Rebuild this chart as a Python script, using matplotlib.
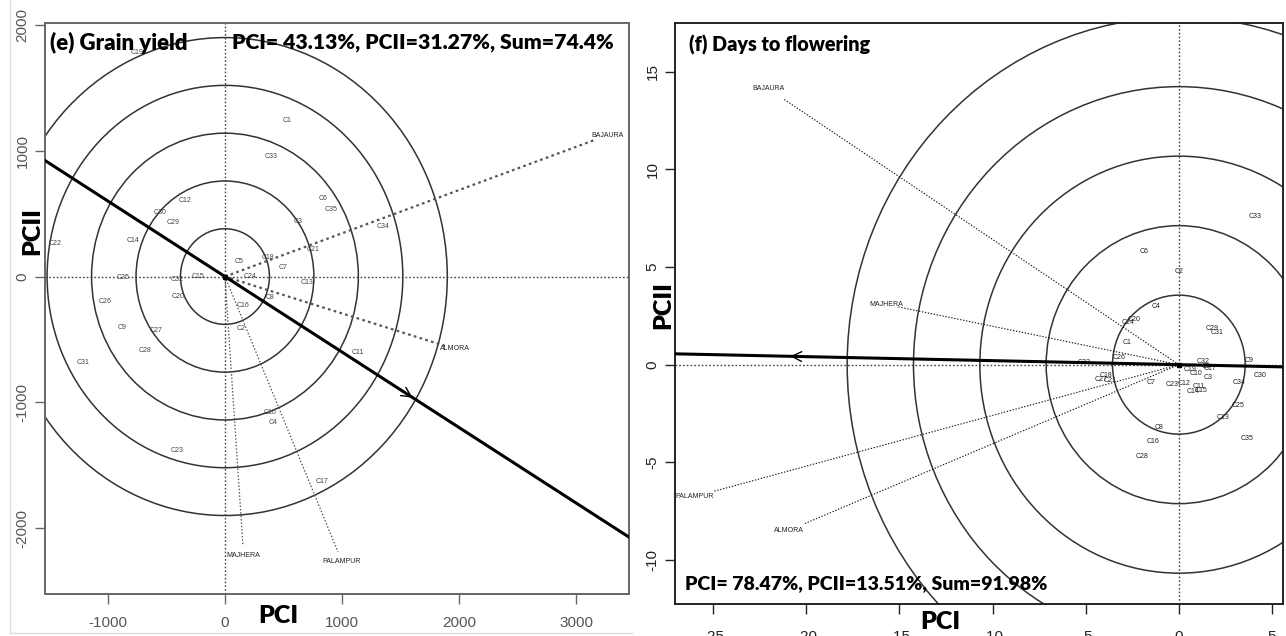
import matplotlib
matplotlib.use("Agg")
import matplotlib.pyplot as plt
from matplotlib.patches import Circle
from matplotlib.lines import Line2D

plt.rcParams["axes.unicode_minus"] = False
plt.rcParams["font.family"] = ["Liberation Sans", "DejaVu Sans"]

# ---------------- (e) Grain yield ----------------
gy_genotypes = ["C1", "C2", "C3", "C4", "C5", "C6", "C7", "C8", "C9", "C10",
                "C11", "C12", "C13", "C14", "C15", "C16", "C17", "C18", "C19", "C20",
                "C21", "C22", "C23", "C24", "C25", "C26", "C27", "C28", "C29", "C30",
                "C31", "C32", "C33", "C34", "C35"]
gy_pc1 = [530, 137, 624, 410, 120, 838, 496, 385, -880, 385,
          1137, -342, 701, -786, -231, 154, 829, 368, -752, -402,
          752, -1453, -410, 214, -872, -1026, -590, -684, -444, -556,
          -1214, -410, 393, 1350, 906]
gy_pc2 = [1238, -413, 437, -1159, 119, 619, 71, -167, -405, -1079,
          -603, 603, -48, 286, 0, -230, -1627, 151, 1778, -159,
          214, 262, -1381, 0, -8, -198, -429, -587, 429, 508,
          -683, -24, 952, 397, 532]
gy_envs = ["BAJAURA", "ALMORA", "MAJHERA", "PALAMPUR"]
gy_env_pc1 = [3162, 1897, 154, 966]
gy_env_pc2 = [1087, -556, -2143, -2190]
gy_env_lw = [1.6, 1.6, 0.9, 0.9]
gy_circles = [380, 760, 1140, 1520, 1900]
gy_ata_slope = -0.60
gy_arrow_at = 1624
gy_title = "(e) Grain yield"
gy_stats = "PCI= 43.13%, PCII=31.27%, Sum=74.4%"

# ---------------- (f) Days to flowering ----------------
df_genotypes = ["C1", "C2", "C3", "C4", "C5", "C6", "C7", "C8", "C9", "C10",
                "C11", "C12", "C13", "C14", "C15", "C16", "C17", "C18", "C19", "C20",
                "C21", "C22", "C23", "C24", "C25", "C26", "C27", "C28", "C29", "C30",
                "C31", "C32", "C33", "C34", "C35"]
df_pc1 = [-2.79, 0.0, 1.55, -1.23, 1.45, -1.88, -1.5, -1.07, 3.75, 0.91,
          1.05, 0.27, 2.36, 0.75, 1.2, -1.39, 1.65, -3.9, 0.59, -2.4,
          -3.7, -5.1, -0.38, -2.73, 3.16, -3.2, -4.2, -1.98, 1.77, 4.34,
          2.04, 1.29, 4.07, 3.22, 3.65]
df_pc2 = [1.13, 4.77, -0.67, 2.97, -0.1, 5.8, -0.92, -3.23, 0.2, -0.46,
          -1.1, -0.97, -2.72, -1.35, -1.3, -3.95, -0.2, -0.56, -0.26, 2.3,
          -0.82, 0.1, -1.03, 2.15, -2.1, 0.36, -0.77, -4.72, 1.85, -0.56,
          1.64, 0.15, 7.6, -0.92, -3.8]
df_envs = ["BAJAURA", "MAJHERA", "PALAMPUR", "ALMORA"]
df_env_pc1 = [-21.2, -15.1, -25.0, -20.1]
df_env_pc2 = [13.6, 2.97, -6.5, -8.15]
df_circles = [3.56, 7.12, 10.68, 14.24, 17.8]
df_ata_slope = -0.0205
df_arrow_at = -21.0
df_title = "(f) Days to flowering"
df_stats = "PCI= 78.47%, PCII=13.51%, Sum=91.98%"

W, H = 1286, 636
fig = plt.figure(figsize=(W / 100, H / 100), dpi=100)


def fig_rect(x0, y0, x1, y1):
    return [x0 / W, 1 - y1 / H, (x1 - x0) / W, (y1 - y0) / H]


BOLD = dict(family=["Lato", "DejaVu Sans"], weight="heavy")


def biplot(ax, names, gx, gy, envs, ex, ey, circles, slope, arrow_x,
           xlim, ylim, xticks, yticks, env_color, env_lw, tick_color,
           frame_color, gen_color, label_scale):
    ax.set_xlim(*xlim)
    ax.set_ylim(*ylim)
    ax.set_xticks(xticks)
    ax.set_yticks(yticks)
    for s in ax.spines.values():
        s.set_color(frame_color)
        s.set_linewidth(1.4)
    ax.tick_params(direction="out", length=7, width=1.0, color=frame_color,
                   labelcolor=tick_color, labelsize=11)
    ax.tick_params(axis="y", labelrotation=90)
    for lbl in ax.get_yticklabels():
        lbl.set_va("center")
    # concentric circles
    for r in circles:
        ax.add_patch(Circle((0, 0), r, fill=False, ec="#333333", lw=1.1, zorder=2))
    # reference axes
    ax.axhline(0, color="#444444", ls=(0, (1.2, 1.5)), lw=1.0, zorder=1)
    ax.axvline(0, color="#444444", ls=(0, (1.2, 1.5)), lw=1.0, zorder=1)
    # environment vectors
    for name, x, y, lw in zip(envs, ex, ey, env_lw):
        ax.plot([0, x], [0, y], color=env_color, ls=(0, (1.2, 1.5)), lw=lw, zorder=3)
        ax.text(x * label_scale, y * label_scale, name, fontsize=5, ha="center",
                va="center", color="#222222", zorder=4)
    # average-environment axis
    ax.axline((0, 0), slope=slope, color="black", lw=2.2, zorder=5)
    step = (xlim[1] - xlim[0]) * 0.03 * (1 if arrow_x > 0 else -1)
    ax.annotate("", xy=(arrow_x, slope * arrow_x),
                xytext=(arrow_x - step, slope * (arrow_x - step)),
                arrowprops=dict(arrowstyle="->,head_length=0.7,head_width=0.35",
                                color="black", lw=1.0), zorder=6)
    ax.plot([0], [0], marker="s", ms=3, color="black", zorder=6)
    # genotype labels
    for name, x, y in zip(names, gx, gy):
        ax.text(x, y, name, fontsize=5, ha="center", va="center",
                color=gen_color, zorder=4)


# faint outer border of the left panel
fig.add_artist(Line2D([10 / W, 10 / W], [1 - 633 / H, 1.0], color="#dddddd", lw=1.0))
fig.add_artist(Line2D([10 / W, 632 / W], [1 - 633 / H, 1 - 633 / H], color="#dddddd", lw=1.0))

# ---- panel (e)
ax1 = fig.add_axes(fig_rect(45, 23, 629, 594))
biplot(ax1, gy_genotypes, gy_pc1, gy_pc2, gy_envs, gy_env_pc1, gy_env_pc2,
       gy_circles, gy_ata_slope, gy_arrow_at,
       (-1538, 3453), (-2524, 2016), [-1000, 0, 1000, 2000, 3000],
       [-2000, -1000, 0, 1000, 2000], "#555555", gy_env_lw, "#555555",
       "#666666", "#444444", 1.035)
ax1.text(0.008, 0.965, gy_title, transform=ax1.transAxes, fontsize=16,
         ha="left", va="center", **BOLD)
ax1.text(0.647, 0.965, gy_stats, transform=ax1.transAxes, fontsize=15.2,
         ha="center", va="center", **BOLD)
fig.text(278 / W, 1 - 616 / H, "PCI", fontsize=18, ha="center", va="center", **BOLD)
fig.text(32 / W, 1 - 231 / H, "PCII", fontsize=18, ha="center", va="center",
         rotation=90, **BOLD)
ax1.tick_params(axis="x", pad=9)
ax1.tick_params(axis="y", pad=4)

# ---- panel (f)
ax2 = fig.add_axes(fig_rect(675, 23, 1283, 604))
biplot(ax2, df_genotypes, df_pc1, df_pc2, df_envs, df_env_pc1, df_env_pc2,
       df_circles, df_ata_slope, df_arrow_at,
       (-27.04, 5.59), (-12.26, 17.5), [-25, -20, -15, -10, -5, 0, 5],
       [-10, -5, 0, 5, 10, 15], "#111111", [0.8] * 4, "#222222",
       "#222222", "#222222", 1.04)
ax2.text(0.023, 0.962, df_title, transform=ax2.transAxes, fontsize=14.2,
         ha="left", va="center", **BOLD)
fig.text(685 / W, 1 - 584 / H, df_stats, fontsize=14, ha="left", va="center", **BOLD)
fig.text(940 / W, 1 - 622 / H, "PCI", fontsize=18, ha="center", va="center", **BOLD)
fig.text(663 / W, 1 - 305 / H, "PCII", fontsize=18, ha="center", va="center",
         rotation=90, **BOLD)
ax2.tick_params(axis="x", pad=12)
ax2.tick_params(axis="y", pad=4)

fig.savefig("out.png", dpi=100, facecolor="white")
